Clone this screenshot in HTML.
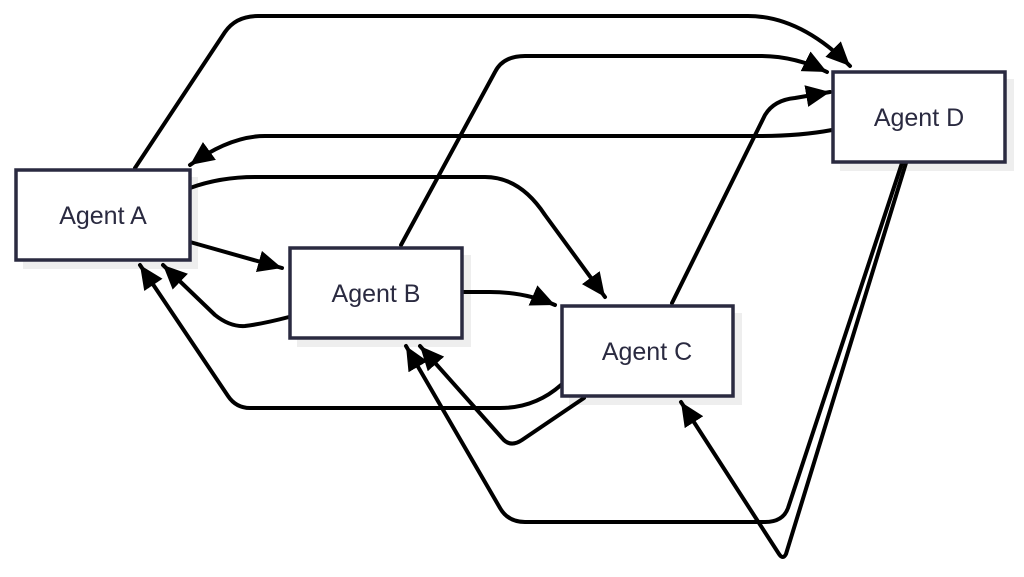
<!DOCTYPE html>
<html><head><style>
html,body{margin:0;padding:0;background:#fff;width:1024px;height:577px;overflow:hidden}
svg{display:block}
text{font-family:"Liberation Sans","DejaVu Sans",sans-serif;font-size:25px;fill:#2a2a40}
</style></head><body>
<svg width="1024" height="577" viewBox="0 0 1024 577">
<defs>
<marker id="ar" markerUnits="userSpaceOnUse" markerWidth="26" markerHeight="24" refX="24" refY="11" orient="auto">
<path d="M0,0 L24,11 L0,22 Z" fill="#000"/>
</marker>
</defs>
<g fill="#eeeeee">
<rect x="23" y="177" width="175" height="92"/>
<rect x="297" y="255" width="174" height="92"/>
<rect x="569" y="313" width="173" height="92"/>
<rect x="840" y="79" width="174" height="92"/>
</g>
<g fill="none" stroke="#000" stroke-width="4" stroke-linejoin="round" stroke-linecap="round">
<path d="M135,168 L225,32 Q236,16 258,16 L748,16 Q800,16 850,66" marker-end="url(#ar)"/>
<path d="M401,245 L495,72 Q503,56 525,56 L760,56 Q795,56 827,72" marker-end="url(#ar)"/>
<path d="M832,130 Q800,136 760,136 L265,136 Q230,136 190,165" marker-end="url(#ar)"/>
<path d="M190,188 Q220,177 255,177 L485,177 Q520,177 545,215 L605,297" marker-end="url(#ar)"/>
<path d="M190,242 L282,268" marker-end="url(#ar)"/>
<path d="M289,317 Q262,324 245,326 Q230,327 215,315 L163,265" marker-end="url(#ar)"/>
<path d="M561,385 Q535,408 500,408 L250,408 Q236,408 228,396 L140,265" marker-end="url(#ar)"/>
<path d="M462,292 L490,292 Q525,292 555,305" marker-end="url(#ar)"/>
<path d="M672,303 L765,115 Q774,100 795,98 L830,92" marker-end="url(#ar)"/>
<path d="M584,398 L522,440 Q510,448 502,438 L420,346" marker-end="url(#ar)"/>
<path d="M902,163 L788,508 Q783,522 765,522 L525,522 Q508,522 500,508 L406,346" marker-end="url(#ar)"/>
<path d="M906,163 L786,554 Q783,560 779,554 L681,402" marker-end="url(#ar)"/>
</g>
<g fill="#fff" stroke="#2a2a40" stroke-width="3.5">
<rect x="16" y="170" width="174" height="90"/>
<rect x="290" y="248" width="172" height="90"/>
<rect x="562" y="306" width="171" height="90"/>
<rect x="833" y="72" width="172" height="90"/>
</g>
<text x="103" y="224" text-anchor="middle">Agent A</text>
<text x="376" y="302" text-anchor="middle">Agent B</text>
<text x="647" y="360" text-anchor="middle">Agent C</text>
<text x="919" y="126" text-anchor="middle">Agent D</text>
</svg>
</body></html>
